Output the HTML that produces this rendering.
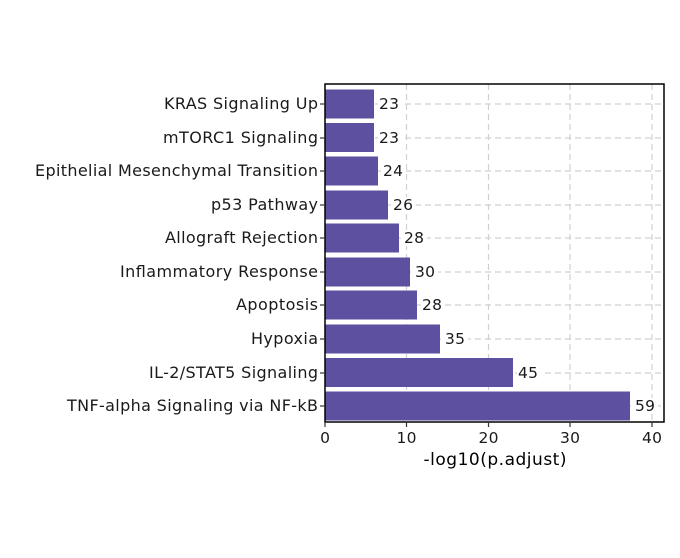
<!DOCTYPE html>
<html><head><style>body{margin:0;background:#fff}</style></head><body>
<svg width="680" height="553" xmlns="http://www.w3.org/2000/svg" font-family="DejaVu Sans, sans-serif">
<rect width="680" height="553" fill="#fff"/>
<g stroke="#d0d0d0" stroke-width="1.2" stroke-dasharray="6,4" fill="none">
<line x1="406.5" y1="84" x2="406.5" y2="422"/><line x1="488.5" y1="84" x2="488.5" y2="422"/>
<line x1="570" y1="84" x2="570" y2="422"/><line x1="652" y1="84" x2="652" y2="422"/>
<line x1="325" y1="104" x2="664" y2="104"/><line x1="325" y1="138" x2="664" y2="138"/>
<line x1="325" y1="171" x2="664" y2="171"/><line x1="325" y1="205" x2="664" y2="205"/>
<line x1="325" y1="238" x2="664" y2="238"/><line x1="325" y1="272" x2="664" y2="272"/>
<line x1="325" y1="305" x2="664" y2="305"/><line x1="325" y1="339" x2="664" y2="339"/>
<line x1="325" y1="373" x2="664" y2="373"/><line x1="325" y1="406" x2="664" y2="406"/>
</g>
<g fill="#5e50a1">
<rect x="325" y="89.5" width="49" height="29"/>
<rect x="325" y="123" width="49" height="29"/>
<rect x="325" y="156.5" width="53" height="29"/>
<rect x="325" y="190.5" width="63" height="29"/>
<rect x="325" y="223.5" width="74" height="29"/>
<rect x="325" y="257.5" width="85" height="29"/>
<rect x="325" y="290.5" width="92" height="29"/>
<rect x="325" y="324.5" width="115" height="29"/>
<rect x="325" y="358" width="188" height="29"/>
<rect x="325" y="391.5" width="305" height="29"/>
</g>
<g font-size="15.5" fill="#1a1a1a">
<g fill="#fff">
<rect x="378" y="96" width="24" height="16"/><rect x="378" y="130" width="24" height="16"/>
<rect x="382" y="163" width="24" height="16"/><rect x="392" y="197" width="24" height="16"/>
<rect x="403" y="230" width="24" height="16"/><rect x="414" y="264" width="24" height="16"/>
<rect x="421" y="297" width="24" height="16"/><rect x="444" y="331" width="24" height="16"/>
<rect x="517" y="365" width="24" height="16"/><rect x="634" y="398" width="24" height="16"/>
</g>
<text x="379" y="109" textLength="20">23</text><text x="379" y="143" textLength="20">23</text><text x="383" y="176" textLength="20">24</text>
<text x="393" y="210" textLength="20">26</text><text x="404" y="243" textLength="20">28</text><text x="415" y="277" textLength="20">30</text>
<text x="422" y="310" textLength="20">28</text><text x="445" y="344" textLength="20">35</text><text x="518" y="378" textLength="20">45</text>
<text x="635" y="411" textLength="20">59</text>
</g>
<rect x="325" y="84" width="339" height="338" fill="none" stroke="#000" stroke-width="1.5"/>
<g font-size="16" fill="#1a1a1a" text-anchor="end">
<text x="318" y="109" textLength="154">KRAS Signaling Up</text>
<text x="318" y="143" textLength="155">mTORC1 Signaling</text>
<text x="318" y="176" textLength="283">Epithelial Mesenchymal Transition</text>
<text x="318" y="210" textLength="107">p53 Pathway</text>
<text x="318" y="243" textLength="153">Allograft Rejection</text>
<text x="318" y="277" textLength="198">Inflammatory Response</text>
<text x="318" y="310" textLength="82">Apoptosis</text>
<text x="318" y="344" textLength="67">Hypoxia</text>
<text x="318" y="378" textLength="169">IL-2/STAT5 Signaling</text>
<text x="318" y="411" textLength="251">TNF-alpha Signaling via NF-kB</text>
</g>
<g stroke="#333" stroke-width="1.2">
<line x1="320" y1="104" x2="325" y2="104"/><line x1="320" y1="138" x2="325" y2="138"/>
<line x1="320" y1="171" x2="325" y2="171"/><line x1="320" y1="205" x2="325" y2="205"/>
<line x1="320" y1="238" x2="325" y2="238"/><line x1="320" y1="272" x2="325" y2="272"/>
<line x1="320" y1="305" x2="325" y2="305"/><line x1="320" y1="339" x2="325" y2="339"/>
<line x1="320" y1="373" x2="325" y2="373"/><line x1="320" y1="406" x2="325" y2="406"/>
<line x1="325" y1="422" x2="325" y2="427"/><line x1="406.5" y1="422" x2="406.5" y2="427"/>
<line x1="488.5" y1="422" x2="488.5" y2="427"/><line x1="570" y1="422" x2="570" y2="427"/>
<line x1="652" y1="422" x2="652" y2="427"/>
</g>
<g font-size="15.5" fill="#1a1a1a" text-anchor="middle">
<text x="325" y="443">0</text><text x="406.5" y="443" textLength="20">10</text><text x="488.5" y="443" textLength="20">20</text>
<text x="570" y="443" textLength="20">30</text><text x="652" y="443" textLength="20">40</text>
<text x="495" y="465" font-size="17" fill="#000" textLength="143">-log10(p.adjust)</text>
</g>
</svg>
</body></html>
